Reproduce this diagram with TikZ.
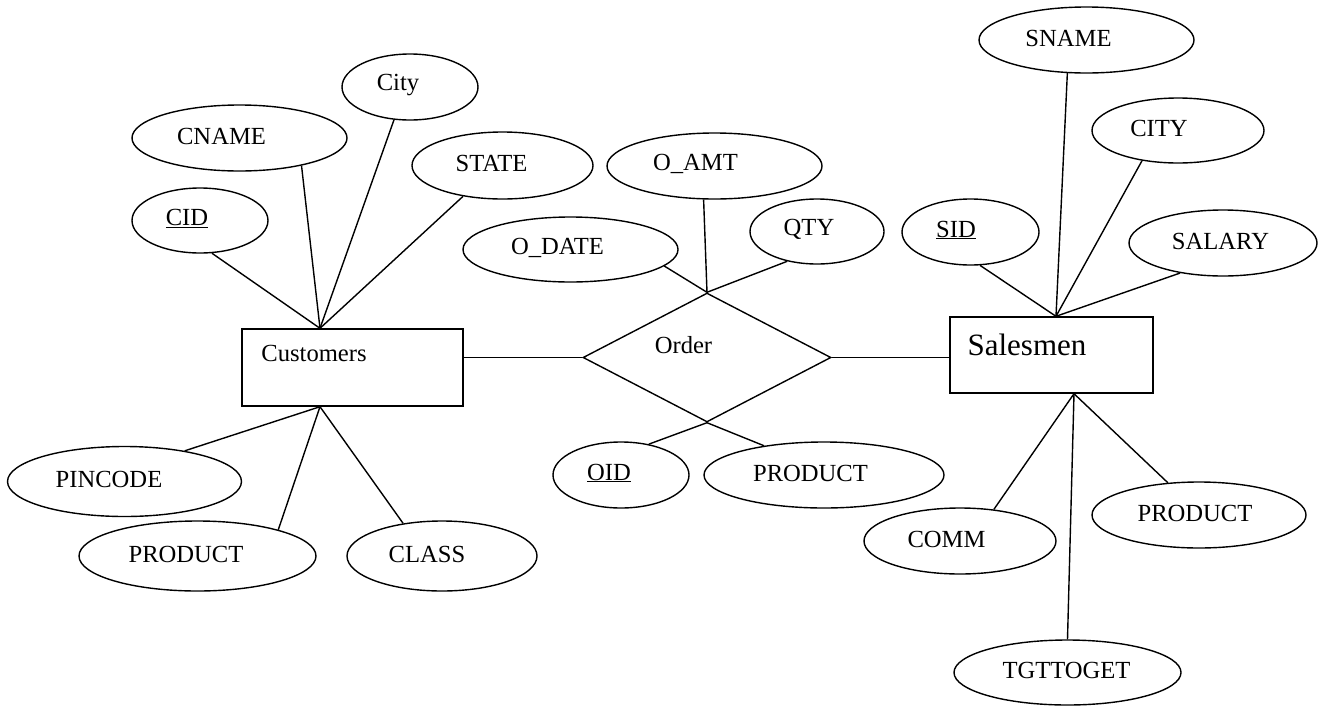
\documentclass[tikz,border=0pt]{standalone}
\usepackage{fontspec}
\setmainfont{Liberation Serif}
\usetikzlibrary{shapes.geometric}
\begin{document}
\begin{tikzpicture}[x=1pt,y=-1pt,line width=1.4pt,
  font=\fontsize{24.6}{28}\selectfont,
  attr/.style={ellipse,draw,inner sep=0pt},
  ent/.style={rectangle,draw,inner sep=0pt},
  rel/.style={diamond,draw,inner sep=0pt,aspect=1.92},
  conn/.style={draw,line width=1.4pt}]
\path[use as bounding box] (0,0) rectangle (1318,705);

% entities and relationship
\node[ent,minimum width=221pt,minimum height=77pt,
  label={[xshift=-38.5pt,yshift=14pt]center:Customers}] (cust) at (352.5,367.5) {};
\node[ent,minimum width=203pt,minimum height=76pt,
  label={[xshift=-24.5pt,yshift=10pt,font=\fontsize{31}{34}\selectfont]center:Salesmen}] (sales) at (1051.5,355) {};
\node[rel,minimum width=248pt,minimum height=129pt,
  label={[xshift=-23.5pt,yshift=12.5pt]center:Order}] (order) at (707,357.5) {};

\coordinate (ct) at ([xshift=-32.5pt]cust.north);
\coordinate (cb) at ([xshift=-32.5pt]cust.south);
\coordinate (st) at ([xshift=4.5pt]sales.north);
\coordinate (sb) at ([xshift=22.5pt]sales.south);

% customer attributes
\node[attr,minimum width=136pt,minimum height=66pt,
  label={[xshift=-12pt,yshift=2pt]center:City}] (ccity) at (410,87) {};
\node[attr,minimum width=215pt,minimum height=66pt,
  label={[xshift=-18pt,yshift=2pt]center:CNAME}] (cname) at (239.5,138) {};
\node[attr,minimum width=136pt,minimum height=65pt,
  label={[xshift=-13pt,yshift=2pt]center:\underline{CID}}] (cid) at (200,220.5) {};
\node[attr,minimum width=181pt,minimum height=67pt,
  label={[xshift=-11pt,yshift=2pt]center:STATE}] (state) at (502.5,165.5) {};
\node[attr,minimum width=234pt,minimum height=70pt,
  label={[xshift=-15.5pt,yshift=2pt]center:PINCODE}] (pincode) at (124.5,481.5) {};
\node[attr,minimum width=237pt,minimum height=70pt,
  label={[xshift=-11.5pt,yshift=2pt]center:PRODUCT}] (cprod) at (197.5,556) {};
\node[attr,minimum width=190pt,minimum height=70pt,
  label={[xshift=-15pt,yshift=2pt]center:CLASS}] (class) at (442,556) {};

% order attributes
\node[attr,minimum width=215pt,minimum height=66pt,
  label={[xshift=-19pt,yshift=2pt]center:O\_AMT}] (oamt) at (714.5,166) {};
\node[attr,minimum width=134pt,minimum height=65pt,
  label={[xshift=-8pt,yshift=2pt]center:QTY}] (qty) at (817,231.5) {};
\node[attr,minimum width=215pt,minimum height=65pt,
  label={[xshift=-13pt,yshift=2pt]center:O\_DATE}] (odate) at (570.5,249.5) {};
\node[attr,minimum width=136pt,minimum height=66pt,
  label={[xshift=-12pt,yshift=2pt]center:\underline{OID}}] (oid) at (621,475) {};
\node[attr,minimum width=240pt,minimum height=66pt,
  label={[xshift=-13.5pt,yshift=2pt]center:PRODUCT}] (oprod) at (824,475) {};

% salesmen attributes
\node[attr,minimum width=215pt,minimum height=66pt,
  label={[xshift=-18pt,yshift=2pt]center:SNAME}] (sname) at (1086.5,40) {};
\node[attr,minimum width=172pt,minimum height=65pt,
  label={[xshift=-19pt,yshift=2pt]center:CITY}] (scity) at (1178,130.5) {};
\node[attr,minimum width=137pt,minimum height=66pt,
  label={[xshift=-14.5pt,yshift=2pt]center:\underline{SID}}] (sid) at (970.5,232) {};
\node[attr,minimum width=188pt,minimum height=66pt,
  label={[xshift=-2.5pt,yshift=2pt]center:SALARY}] (salary) at (1223,243) {};
\node[attr,minimum width=192pt,minimum height=66pt,
  label={[xshift=-13.5pt,yshift=2pt]center:COMM}] (comm) at (960,541) {};
\node[attr,minimum width=227pt,minimum height=65pt,
  label={[xshift=-1pt,yshift=2pt]center:TGTTOGET}] (tgt) at (1067.5,672.5) {};
\node[attr,minimum width=214pt,minimum height=66pt,
  label={[xshift=-4pt,yshift=2pt]center:PRODUCT}] (sprod) at (1199,515) {};

% connectors
\draw[conn] (order.west -| cust.east) -- (order.west);
\draw[conn] (order.east) -- (order.east -| sales.west);

\draw[conn] (ct) -- (cid.-70);
\draw[conn] (ct) -- (cname.-24);
\draw[conn] (ct) -- (ccity.-116);
\draw[conn] (ct) -- (state.-142);
\draw[conn] (cb) -- (pincode.27);
\draw[conn] (cb) -- (cprod.18);
\draw[conn] (cb) -- (class.140);

\draw[conn] (order.north) -- (odate.-10);
\draw[conn] (order.north) -- (oamt.-108);
\draw[conn] (order.north) -- (qty.-135);
\draw[conn] (order.south) -- (oid.48);
\draw[conn] (order.south) -- (oprod.154);

\draw[conn] (st) -- (sid.-74);
\draw[conn] (st) -- (sname.-120);
\draw[conn] (st) -- (scity.-140);
\draw[conn] (st) -- (salary.-145);
\draw[conn] (sb) -- (comm.43);
\draw[conn] (sb) -- (tgt.90);
\draw[conn] (sb) -- (sprod.134);
\end{tikzpicture}
\end{document}
